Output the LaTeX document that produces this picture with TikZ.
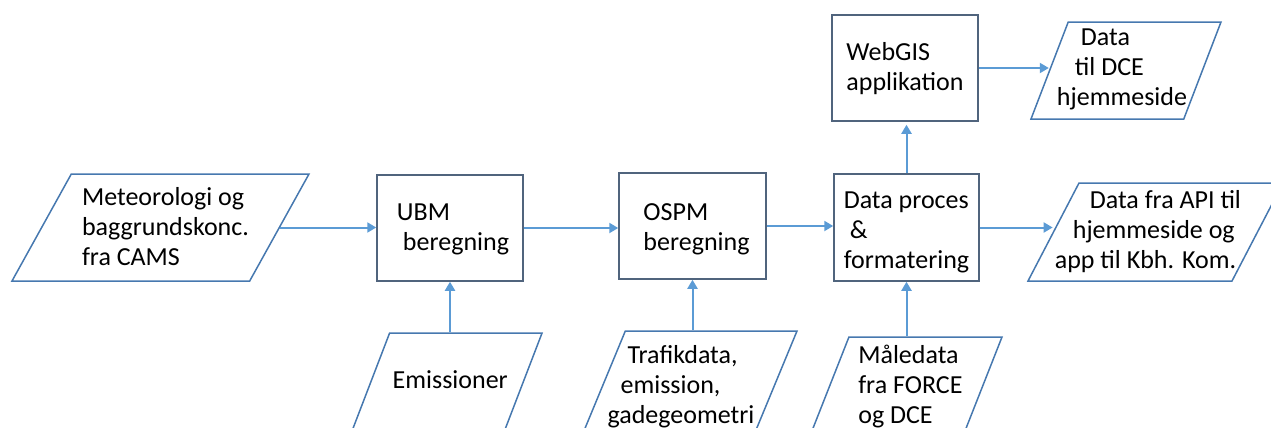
\documentclass[tikz,border=0pt]{standalone}
\usepackage{fontspec}
\setmainfont{Carlito}
\usepackage{xcolor}
\usepackage{tikz}
\usetikzlibrary{shapes}
\usetikzlibrary{arrows.meta}
\usetikzlibrary{positioning}
\usetikzlibrary{calc}

\definecolor{boxline}{RGB}{80,100,125}
\definecolor{paraline}{RGB}{70,120,175}
\definecolor{flowline}{RGB}{91,155,213}

\newcommand\boxlines[2][l]{\makebox[0pt]{\begin{tabular}{@{}#1@{}}#2\end{tabular}}}

\tikzset{
  procbox/.style={draw=boxline, line width=0.75pt, inner sep=0pt, font=\fontsize{13}{15}\selectfont},
  iobox/.style={trapezium, trapezium stretches body, draw=paraline, line width=0.75pt, inner sep=0pt, font=\fontsize{13}{15}\selectfont},
  flow/.style={draw=flowline, line width=1pt, -{Triangle[length=4.5pt,width=5pt]}}
}

\begin{document}
\begin{tikzpicture}[x=0.5pt,y=-0.5pt]
          \useasboundingbox (0,0) rectangle (1271,428);

          \node[iobox, trapezium left angle=61, trapezium right angle=119, minimum width=148.5pt, text height=30.6pt, text depth=22.9pt] (met) at (160.5,227.5) {\boxlines{\hspace*{5pt}Meteorologi og\\\hspace*{5pt}baggrundskonc.\\\hspace*{5pt}fra CAMS}};
          \node[procbox, minimum width=73pt, text height=30.1pt, text depth=22.9pt] (ubm) at (450,228) {\boxlines{\hspace*{3pt}UBM\\\hspace*{6pt}beregning}};
          \node[procbox, minimum width=73.5pt, text height=31.1pt, text depth=21.9pt] (ospm) at (692.5,226) {\boxlines{\hspace*{4pt}OSPM\\\hspace*{4pt}beregning}};
          \node[procbox, minimum width=72.5pt, text height=32.1pt, text depth=21.4pt] (proc) at (906.5,227.5) {\boxlines{Data proces\\\hspace*{3pt}\&\\formatering}};
          \node[procbox, minimum width=73pt, text height=30.1pt, text depth=22.9pt] (web) at (905,68) {\boxlines{WebGIS\\applikation}};

          \node[iobox, trapezium left angle=69, trapezium right angle=111, minimum width=95pt, text height=26.6pt, text depth=21.9pt] (dce) at (1126,70.5) {\boxlines{\hspace*{12pt}Data\\\hspace*{9pt}til DCE\\hjemmeside\hspace*{4pt}}};
          \node[iobox, trapezium left angle=62.5, trapezium right angle=117.5, minimum width=127.5pt, text height=27.6pt, text depth=21.4pt] (api) at (1155.5,232) {\boxlines{\hspace*{17.5pt}Data fra API til\\\hspace*{9pt}hjemmeside og\\app til Kbh. Kom.\hspace*{10pt}}};

          \node[iobox, trapezium left angle=69, trapezium right angle=111, minimum width=96.75pt, text height=27.6pt, text depth=25.9pt] (emis) at (445.3,386.5) {\boxlines{\hspace*{5pt}Emissioner}};
          \node[iobox, trapezium left angle=67.5, trapezium right angle=112.5, minimum width=108pt, text height=31.1pt, text depth=22.4pt] (traf) at (689,384.5) {\boxlines{\hspace*{10pt}Trafikdata,\\\hspace*{6.5pt}emission,\\gadegeometri\hspace*{8pt}}};
          \node[iobox, trapezium left angle=68.5, trapezium right angle=111.5, minimum width=97.6pt, text height=28.1pt, text depth=25.4pt] (maal) at (904.4,390.5) {\boxlines{\hspace*{6pt}Måledata\\\hspace*{6pt}fra FORCE\\\hspace*{6pt}og DCE}};

          \draw[flow] (met.east) -- (met.east -| ubm.west);
          \draw[flow] (ubm.east) -- (ubm.east -| ospm.west);
          \draw[flow] (ospm.east) -- (ospm.east -| proc.west);
          \draw[flow, shorten >=1.5pt] (proc.north) -- (proc.north |- web.south);
          \draw[flow] (web.east) -- (web.east -| dce.west);
          \draw[flow] (proc.east) -- (proc.east -| api.west);

          \draw[flow] (ubm.south |- emis.north) -- (ubm.south);
          \draw[flow] (ospm.south |- traf.north) -- (ospm.south);
          \draw[flow] (proc.south |- maal.north) -- (proc.south);

    \end{tikzpicture}
\end{document}
